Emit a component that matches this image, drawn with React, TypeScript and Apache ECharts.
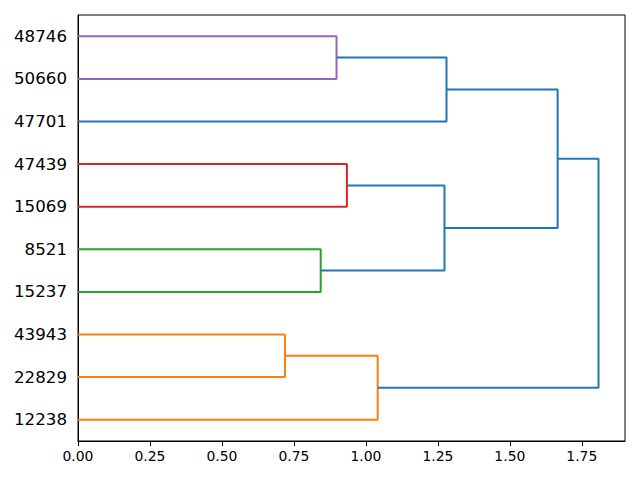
import React, { useEffect, useRef } from "react";
import * as echarts from "echarts";

// Leaves, bottom to top (dendrogram leaf positions 5, 15, ..., 95)
const leafLabels = ["12238", "22829", "43943", "15237", "8521", "15069", "47439", "47701", "50660", "48746"];
const leafPositions = [5, 15, 25, 35, 45, 55, 65, 75, 85, 95];

// Links in scipy icoord / dcoord style
const linkY: number[][] = [
  [15, 15, 25, 25],
  [5, 5, 20, 20],
  [35, 35, 45, 45],
  [55, 55, 65, 65],
  [40, 40, 60, 60],
  [85, 85, 95, 95],
  [75, 75, 90, 90],
  [50, 50, 82.5, 82.5],
  [12.5, 12.5, 66.25, 66.25],
];
const linkHeight: number[][] = [
  [0, 0.719, 0.719, 0],
  [0, 1.041, 1.041, 0.719],
  [0, 0.843, 0.843, 0],
  [0, 0.934, 0.934, 0],
  [0.843, 1.273, 1.273, 0.934],
  [0, 0.898, 0.898, 0],
  [0, 1.28, 1.28, 0.898],
  [1.273, 1.666, 1.666, 1.28],
  [1.041, 1.808, 1.808, 1.666],
];
const linkColor = ["#ff7f0e", "#ff7f0e", "#2ca02c", "#d62728", "#1f77b4", "#9467bd", "#1f77b4", "#1f77b4", "#1f77b4"];

const xTicks = [0, 0.25, 0.5, 0.75, 1.0, 1.25, 1.5, 1.75];
const xMax = 1.9;

export default function App() {
  const ref = useRef<HTMLDivElement>(null);
  useEffect(() => {
    if (!ref.current) return;
    const chart = echarts.init(ref.current, undefined, { renderer: "svg" });
    const font = "DejaVu Sans";
    chart.setOption({
      animation: false,
      backgroundColor: "#ffffff",
      grid: {
        left: 78,
        right: 15,
        top: 15,
        bottom: 39,
        show: true,
        borderColor: "#000",
        borderWidth: 1,
        backgroundColor: "transparent",
      },
      xAxis: {
        type: "value",
        min: 0,
        max: xMax,
        interval: 0.25,
        splitLine: { show: false },
        axisLine: { show: true, lineStyle: { color: "#000", width: 1 } },
        axisTick: { show: true, length: 5, inside: false, lineStyle: { color: "#000", width: 1 }, customValues: xTicks },
        axisLabel: {
          customValues: xTicks,
          color: "#000",
          fontFamily: font,
          fontSize: 13.9,
          margin: 8,
          formatter: (v: number) => v.toFixed(2),
        },
      },
      yAxis: {
        type: "value",
        min: 0,
        max: 100,
        interval: 10,
        splitLine: { show: false },
        axisLine: { show: true, lineStyle: { color: "#000", width: 1 } },
        axisTick: { show: false },
        axisLabel: {
          customValues: leafPositions,
          color: "#000",
          fontFamily: font,
          fontSize: 16.67,
          margin: 11,
          formatter: (v: number) => {
            const i = leafPositions.indexOf(v);
            return i >= 0 ? leafLabels[i] : "";
          },
        },
      },
      series: linkY.map((ys, k) => ({
        type: "line",
        data: ys.map((y, j) => [linkHeight[k][j], y]),
        showSymbol: false,
        symbol: "none",
        lineStyle: { color: linkColor[k], width: 2 },
        itemStyle: { color: linkColor[k] },
        silent: true,
      })),
    });
    return () => chart.dispose();
  }, []);
  return (
    <div
      ref={ref}
      style={{ position: "fixed", left: 0, top: 0, width: 640, height: 480 }}
    />
  );
}
